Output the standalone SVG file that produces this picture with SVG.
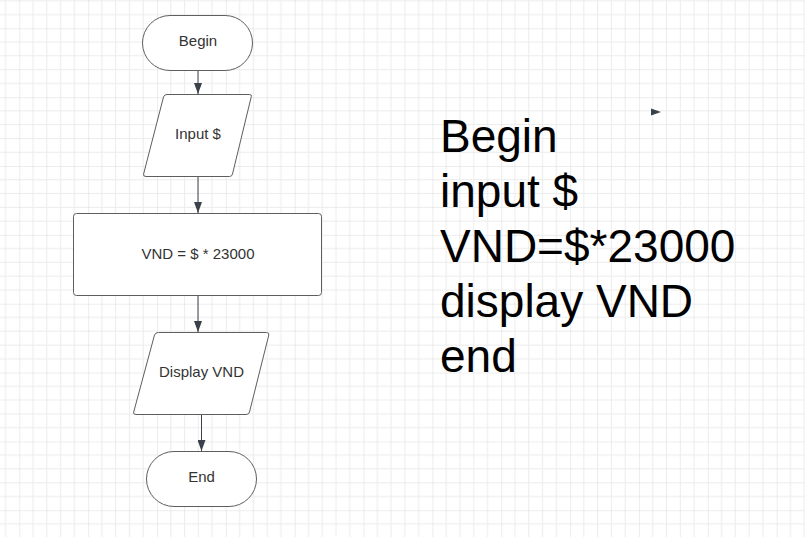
<svg xmlns="http://www.w3.org/2000/svg" width="805" height="537" viewBox="0 0 805 537">
  <defs>
    <pattern id="grid" patternUnits="userSpaceOnUse" x="19.3" y="28.3" width="68.85" height="68.85">
      <rect width="68.85" height="68.85" fill="#ffffff"/>
      <g stroke="#ececec" stroke-width="1">
        <line x1="13.77" y1="0" x2="13.77" y2="68.85"/>
        <line x1="27.54" y1="0" x2="27.54" y2="68.85"/>
        <line x1="41.31" y1="0" x2="41.31" y2="68.85"/>
        <line x1="55.08" y1="0" x2="55.08" y2="68.85"/>
        <line x1="0" y1="13.77" x2="68.85" y2="13.77"/>
        <line x1="0" y1="27.54" x2="68.85" y2="27.54"/>
        <line x1="0" y1="41.31" x2="68.85" y2="41.31"/>
        <line x1="0" y1="55.08" x2="68.85" y2="55.08"/>
      </g>
      <g stroke="#dcdcdc" stroke-width="1">
        <line x1="0" y1="0" x2="0" y2="68.85"/>
        <line x1="0" y1="0" x2="68.85" y2="0"/>
      </g>
    </pattern>
    <marker id="arrow" markerWidth="11" markerHeight="8" refX="11" refY="4" orient="auto" markerUnits="userSpaceOnUse">
      <path d="M0,0 L11,4 L0,8 Z" fill="#3a414a"/>
    </marker>
    <style>
      .shape { fill: #ffffff; stroke: #5e5e5e; stroke-width: 1; }
      .label { font-family: "Liberation Sans", Arial, sans-serif; font-size: 15px; fill: #333333; text-anchor: middle; }
      .conn { stroke: #3a414a; stroke-width: 1; fill: none; marker-end: url(#arrow); }
      .big { font-family: "Liberation Sans", Arial, sans-serif; font-size: 46px; fill: #000000; }
    </style>
  </defs>
  <rect width="805" height="537" fill="url(#grid)"/>

  <g id="connectors">
    <line class="conn" x1="198" y1="70.5" x2="198" y2="94"/>
    <line class="conn" x1="198" y1="176.5" x2="198" y2="213"/>
    <line class="conn" x1="198" y1="296" x2="198" y2="332"/>
    <line class="conn" x1="201.5" y1="414.5" x2="201.5" y2="451"/>
    <path d="M651,108.5 L661,112 L651,115.5 Z" fill="#3a414a"/>
  </g>

  <g id="node-begin">
    <rect class="shape" x="142.5" y="15.5" width="110" height="55" rx="27.5"/>
    <text class="label" x="198" y="46">Begin</text>
  </g>

  <g id="node-input">
    <path class="shape" d="M167,94.5 L249.5,94.5 Q252,94.5 251.3,96.5 L232.5,174 Q232,176.5 229.5,176.5 L146,176.5 Q143,176.5 143.6,174 L163.5,97 Q164.3,94.5 167,94.5 Z"/>
    <text class="label" x="198" y="138.5">Input $</text>
  </g>

  <g id="node-process">
    <rect class="shape" x="73.5" y="213.5" width="248" height="82" rx="3"/>
    <text class="label" x="198" y="258.5">VND = $ * 23000</text>
  </g>

  <g id="node-display">
    <path class="shape" d="M158.5,332.5 L266.5,332.5 Q269.5,332.5 268.8,335 L249.5,412 Q249,414.5 246,414.5 L136,414.5 Q133,414.5 133.7,412 L154.5,335 Q155.3,332.5 158.5,332.5 Z"/>
    <text class="label" x="201.5" y="376.5">Display VND</text>
  </g>

  <g id="node-end">
    <rect class="shape" x="146.5" y="451.5" width="110" height="55" rx="27.5"/>
    <text class="label" x="201.5" y="482">End</text>
  </g>

  <g id="notes">
    <text class="big" x="440" y="151.5">Begin</text>
    <text class="big" x="440" y="206.5">input $</text>
    <text class="big" x="440" y="261.5">VND=$*23000</text>
    <text class="big" x="440" y="316.5">display VND</text>
    <text class="big" x="440" y="371.5">end</text>
  </g>
</svg>
